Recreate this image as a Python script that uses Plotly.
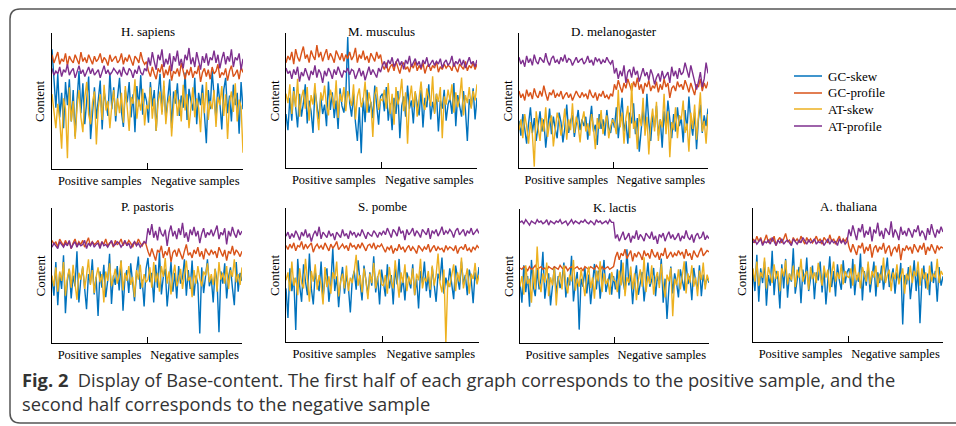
import plotly.graph_objects as go

# ---------------- data (estimated from the figure, 0-100 "content" scale) ----------------
series_names = ["GC-skew", "GC-profile", "AT-skew", "AT-profile"]
series_colors = ["#0072BD", "#D95319", "#EDB120", "#7E2F8E"]
species = ["H. sapiens", "M. musculus", "D. melanogaster", "P. pastoris", "S. pombe", "K. lactis", "A. thaliana"]
tick_labels = ["Positive samples", "Negative samples"]

hs_gc_skew = [88, 62, 45, 70, 38, 56, 30, 64, 47, 66, 35, 58, 24, 51, 72, 41, 63, 33, 54, 68, 22, 45, 60, 37, 52,
              65, 29, 57, 48, 39, 71, 44, 60, 35, 53, 67, 42, 31, 58, 49, 64, 38, 55, 27, 61, 46, 69, 40, 56, 50,
              34, 64, 46, 58, 28, 55, 70, 42, 61, 37, 52, 66, 30, 57, 48, 63, 39, 54, 45, 71, 36, 59, 50, 43, 67,
              33, 56, 47, 62, 38, 19, 58, 44, 72, 53, 36, 63, 49, 29, 58, 67, 41, 54, 35, 62, 47, 56, 26, 64, 44]
hs_gc_profile = [84, 78, 82, 86, 77, 81, 79, 85, 76, 83, 80, 78, 84, 81, 77, 86, 79, 82, 78, 84, 80, 77, 83, 79, 81,
                 85, 78, 82, 80, 76, 84, 79, 81, 83, 78, 80, 85, 77, 82, 79, 84, 80, 76, 83, 81, 78, 86, 80, 77, 79,
                 72, 68, 75, 70, 66, 74, 71, 77, 67, 73, 69, 76, 65, 72, 70, 74, 68, 78, 71, 66, 73, 69, 75, 67, 72,
                 70, 76, 64, 71, 74, 68, 73, 66, 75, 70, 72, 77, 67, 71, 69, 74, 65, 72, 76, 68, 70, 73, 66, 75, 71]
hs_at_skew = [55, 42, 30, 48, 36, 15, 52, 44, 8, 60, 35, 50, 22, 46, 58, 38, 27, 53, 64, 40, 33, 49, 57, 18, 45,
              55, 36, 62, 43, 50, 30, 47, 58, 39, 52, 41, 56, 34, 61, 45, 28, 53, 48, 66, 37, 51, 43, 59, 32, 47,
              44, 60, 37, 52, 28, 49, 57, 40, 65, 33, 48, 54, 24, 46, 58, 39, 51, 35, 62, 43, 55, 30, 47, 60, 38,
              52, 45, 27, 56, 41, 64, 36, 50, 44, 58, 31, 53, 47, 61, 39, 55, 22, 49, 57, 42, 63, 35, 51, 46, 12]
hs_at_profile = [74, 69, 72, 70, 75, 68, 73, 71, 77, 69, 72, 74, 67, 71, 76, 70, 73, 68, 72, 75, 70, 74, 69, 71, 73,
                 67, 72, 76, 70, 73, 69, 71, 74, 72, 70, 73, 68, 75, 71, 69, 74, 72, 67, 73, 70, 76, 71, 69, 74, 72,
                 82, 76, 86, 79, 73, 84, 80, 88, 75, 81, 77, 85, 72, 83, 79, 87, 76, 81, 74, 84, 80, 89, 77, 82, 75,
                 86, 79, 73, 83, 78, 85, 76, 82, 80, 87, 78, 84, 74, 81, 86, 77, 83, 79, 88, 75, 82, 80, 85, 73, 81]

mm_gc_skew = [40, 28, 52, 35, 60, 44, 30, 55, 38, 48, 62, 33, 50, 42, 26, 58, 45, 36, 53, 40, 47, 31, 64, 43, 56,
              37, 50, 29, 59, 46, 41, 54, 97, 48, 38, 55, 34, 20, 45, 11, 52, 34, 58, 41, 49, 37, 61, 44, 32, 53,
              55, 42, 60, 35, 48, 28, 52, 40, 57, 22, 46, 53, 38, 61, 44, 50, 33, 56, 47, 39, 58, 30, 52, 45, 62,
              36, 49, 41, 55, 27, 50, 44, 58, 35, 47, 52, 40, 63, 31, 54, 46, 38, 57, 43, 20, 51, 45, 59, 36, 52]
mm_gc_profile = [78, 83, 80, 86, 77, 88, 82, 79, 85, 90, 81, 84, 78, 87, 83, 80, 91, 82, 86, 79, 84, 88, 80, 85, 82,
                 78, 87, 83, 80, 85, 79, 84, 81, 86, 80, 83, 89, 78, 84, 81, 87, 80, 83, 78, 85, 82, 79, 86, 81, 84,
                 76, 73, 78, 71, 75, 77, 72, 79, 74, 70, 76, 78, 73, 75, 71, 77, 74, 79, 72, 76, 73, 78, 70, 75, 77,
                 72, 76, 74, 79, 71, 75, 73, 77, 74, 76, 75, 72, 78, 74, 71, 77, 75, 73, 79, 72, 76, 74, 78, 73, 77]
mm_at_skew = [55, 48, 62, 40, 57, 45, 66, 38, 52, 58, 44, 60, 35, 54, 47, 63, 42, 28, 56, 50, 61, 46, 39, 58, 52,
              44, 65, 37, 55, 49, 60, 42, 57, 51, 46, 62, 36, 53, 59, 45, 50, 64, 41, 56, 48, 23, 54, 60, 43, 51,
              50, 58, 44, 63, 40, 55, 32, 60, 47, 53, 66, 42, 56, 18, 50, 61, 45, 57, 38, 52, 64, 48, 43, 59, 51,
              46, 68, 40, 55, 49, 60, 22, 53, 47, 58, 50, 62, 41, 56, 45, 52, 67, 39, 54, 48, 60, 44, 57, 50, 62]
mm_at_profile = [74, 70, 72, 66, 73, 69, 75, 64, 71, 68, 74, 70, 65, 72, 69, 76, 67, 73, 70, 63, 72, 68, 74, 71, 66,
                 73, 69, 75, 70, 67, 72, 71, 74, 69, 73, 72, 66, 70, 74, 68, 72, 65, 71, 75, 69, 73, 70, 67, 74, 71,
                 76, 79, 74, 80, 77, 82, 75, 78, 81, 76, 79, 73, 80, 77, 83, 75, 78, 81, 76, 79, 74, 80, 77, 82, 75,
                 78, 80, 76, 79, 77, 81, 74, 78, 80, 76, 78, 83, 75, 79, 77, 81, 76, 80, 74, 78, 82, 77, 79, 75, 80]

dm_gc_skew = [35, 24, 40, 28, 18, 33, 45, 26, 37, 20, 31, 42, 27, 36, 15, 32, 44, 25, 38, 29, 22, 41, 34, 19, 30,
              47, 26, 35, 39, 23, 33, 43, 28, 36, 31, 38, 21, 34, 46, 27, 32, 17, 40, 29, 36, 24, 43, 30, 26, 37,
              30, 45, 22, 38, 52, 27, 35, 18, 41, 33, 48, 25, 37, 12, 31, 44, 28, 55, 34, 20, 39, 30, 46, 24, 36,
              15, 42, 29, 50, 33, 22, 40, 27, 45, 31, 37, 19, 43, 28, 53, 34, 24, 41, 14, 36, 47, 26, 39, 31, 44]
dm_gc_profile = [57, 52, 55, 50, 58, 53, 56, 51, 59, 54, 52, 57, 53, 61, 55, 50, 56, 54, 58, 52, 55, 53, 57, 51, 54,
                 56, 52, 55, 50, 53, 57, 54, 52, 56, 53, 55, 51, 58, 54, 52, 56, 50, 55, 53, 57, 52, 54, 51, 55, 53,
                 62, 58, 65, 60, 56, 63, 59, 66, 61, 57, 64, 60, 67, 58, 62, 55, 63, 60, 65, 57, 61, 59, 64, 56, 62,
                 58, 66, 60, 63, 52, 59, 61, 57, 64, 60, 62, 58, 65, 61, 56, 63, 59, 54, 62, 60, 66, 57, 63, 59, 64]
dm_at_skew = [28, 36, 22, 40, 31, 18, 34, 25, 1, 42, 30, 20, 37, 27, 45, 23, 33, 39, 16, 29, 41, 35, 24, 32, 44,
              21, 36, 28, 48, 26, 38, 31, 19, 35, 42, 27, 33, 24, 40, 30, 14, 37, 29, 43, 25, 34, 39, 22, 31, 36,
              33, 25, 58, 30, 41, 18, 37, 46, 22, 63, 29, 35, 14, 40, 31, 52, 24, 38, 10, 33, 44, 27, 49, 20, 36,
              30, 55, 25, 42, 8, 34, 28, 45, 22, 39, 36, 50, 26, 33, 12, 41, 29, 47, 21, 38, 56, 27, 35, 18, 40]
dm_at_profile = [82, 77, 80, 75, 83, 78, 81, 76, 84, 79, 77, 82, 80, 78, 85, 79, 76, 81, 83, 78, 80, 77, 82, 79, 84,
                 78, 81, 80, 76, 79, 82, 78, 80, 81, 77, 79, 83, 78, 80, 76, 82, 79, 81, 77, 80, 78, 82, 79, 77, 80,
                 70, 74, 66, 72, 68, 76, 63, 71, 73, 67, 75, 69, 72, 64, 70, 74, 68, 71, 65, 73, 69, 62, 67, 70, 64,
                 72, 66, 69, 71, 63, 75, 68, 72, 66, 74, 69, 71, 78, 73, 67, 76, 70, 62, 58, 64, 71, 60, 66, 78, 70]

pp_gc_skew = [48, 35, 60, 28, 52, 40, 65, 22, 46, 55, 33, 50, 42, 68, 30, 47, 56, 38, 25, 51, 44, 62, 36, 49, 20,
              53, 41, 58, 34, 46, 66, 29, 50, 43, 57, 39, 61, 24, 48, 54, 37, 59, 45, 31, 52, 64, 40, 47, 27, 55,
              63, 45, 52, 30, 58, 41, 67, 36, 49, 55, 27, 46, 60, 38, 52, 33, 57, 44, 48, 62, 35, 54, 40, 61, 35,
              50, 44, 7, 56, 37, 51, 62, 42, 48, 30, 55, 46, 8, 53, 44, 59, 33, 49, 56, 41, 28, 60, 38, 52, 46]
pp_gc_profile = [76, 73, 75, 71, 77, 74, 72, 76, 73, 75, 70, 74, 77, 72, 75, 73, 76, 71, 74, 78, 72, 75, 73, 74, 76,
                 71, 75, 73, 77, 72, 74, 75, 71, 76, 73, 74, 77, 72, 75, 73, 76, 74, 71, 75, 73, 77, 74, 72, 75, 73,
                 68, 64, 70, 66, 61, 69, 67, 72, 63, 68, 65, 71, 60, 67, 69, 64, 70, 66, 62, 68, 73, 65, 67, 63, 69,
                 66, 71, 64, 68, 62, 70, 67, 65, 69, 66, 68, 63, 71, 67, 64, 69, 61, 68, 66, 72, 65, 69, 67, 64, 68]
pp_at_skew = [50, 42, 56, 38, 53, 46, 60, 35, 48, 55, 41, 58, 44, 32, 52, 47, 57, 40, 50, 62, 43, 54, 37, 49, 56,
              45, 51, 30, 53, 46, 59, 42, 48, 55, 44, 50, 61, 39, 52, 46, 57, 43, 49, 34, 54, 47, 58, 41, 51, 45,
              47, 56, 41, 60, 45, 52, 38, 57, 49, 63, 44, 53, 36, 50, 58, 42, 47, 55, 40, 52, 61, 46, 49, 34, 54,
              44, 57, 48, 42, 53, 50, 59, 45, 51, 43, 55, 38, 60, 47, 52, 44, 57, 40, 54, 49, 62, 45, 51, 43, 56]
pp_at_profile = [71, 74, 72, 70, 75, 73, 71, 74, 72, 76, 70, 73, 75, 71, 74, 72, 73, 76, 70, 74, 72, 75, 71, 73, 74,
                 70, 75, 72, 73, 71, 74, 76, 72, 73, 75, 74, 71, 73, 76, 72, 74, 70, 73, 75, 72, 74, 71, 73, 75, 74,
                 85, 80, 88, 78, 83, 76, 86, 81, 79, 84, 72, 82, 87, 79, 83, 77, 85, 80, 89, 78, 82, 75, 84, 80, 86,
                 79, 83, 74, 81, 85, 78, 82, 80, 84, 79, 83, 87, 77, 82, 80, 85, 73, 83, 79, 86, 81, 78, 84, 80, 83]

sp_gc_skew = [40, 18, 55, 38, 48, 9, 62, 42, 30, 58, 45, 35, 66, 40, 28, 52, 44, 38, 60, 33, 47, 55, 30, 43, 70,
              38, 49, 26, 45, 56, 36, 50, 41, 22, 47, 53, 39, 61, 44, 31, 57, 46, 35, 52, 42, 64, 37, 49, 28, 54,
              45, 34, 58, 40, 50, 28, 55, 43, 62, 37, 48, 31, 52, 45, 40, 58, 35, 47, 25, 53, 44, 60, 38, 49, 33,
              56, 42, 30, 51, 46, 63, 36, 48, 41, 55, 44, 32, 57, 46, 39, 60, 43, 50, 35, 54, 47, 29, 52, 44, 56]
sp_gc_profile = [72, 69, 73, 70, 74, 68, 72, 71, 75, 69, 73, 70, 72, 74, 67, 71, 73, 70, 72, 69, 74, 71, 68, 73, 70,
                 72, 75, 69, 71, 73, 70, 72, 68, 74, 71, 72, 69, 73, 70, 74, 71, 68, 72, 73, 70, 74, 69, 72, 71, 73,
                 70, 67, 71, 69, 72, 66, 70, 68, 73, 69, 71, 67, 70, 72, 68, 71, 69, 66, 72, 70, 68, 71, 69, 73, 67,
                 70, 72, 68, 71, 69, 70, 67, 72, 69, 71, 70, 68, 72, 66, 70, 71, 69, 73, 68, 70, 67, 71, 69, 72, 70]
sp_at_skew = [46, 52, 38, 60, 42, 48, 35, 55, 44, 40, 62, 47, 30, 53, 45, 58, 39, 50, 43, 28, 56, 41, 49, 36, 52,
              47, 60, 34, 45, 51, 40, 57, 38, 48, 44, 53, 65, 42, 50, 37, 55, 46, 32, 51, 44, 59, 40, 48, 54, 43,
              42, 50, 36, 56, 45, 40, 61, 47, 33, 52, 44, 58, 38, 49, 43, 55, 35, 51, 46, 62, 40, 48, 45, 53, 39,
              57, 42, 50, 66, 44, 37, 54, 0, 46, 41, 50, 58, 38, 52, 45, 63, 40, 49, 55, 36, 51, 47, 59, 43, 50]
sp_at_profile = [79, 82, 77, 81, 78, 83, 80, 76, 82, 79, 84, 78, 81, 75, 80, 83, 79, 86, 77, 82, 80, 78, 83, 79, 81,
                 76, 82, 80, 78, 84, 79, 81, 77, 83, 80, 82, 78, 81, 79, 84, 80, 77, 82, 80, 79, 83, 81, 78, 82, 80,
                 83, 80, 85, 81, 78, 84, 82, 79, 86, 81, 83, 76, 84, 80, 82, 85, 79, 83, 81, 78, 84, 82, 80, 85, 77,
                 83, 81, 84, 79, 82, 86, 80, 83, 81, 84, 82, 78, 83, 85, 80, 82, 84, 79, 83, 81, 85, 80, 82, 84, 81]

kl_gc_skew = [45, 30, 58, 38, 50, 27, 62, 42, 35, 55, 40, 48, 68, 33, 46, 52, 28, 44, 57, 36, 50, 41, 47, 60, 34,
              49, 43, 65, 31, 45, 53, 10, 48, 42, 56, 37, 51, 29, 46, 59, 40, 54, 33, 48, 62, 38, 45, 52, 36, 50,
              40, 55, 33, 62, 46, 38, 70, 43, 51, 29, 48, 58, 36, 45, 53, 31, 49, 60, 42, 47, 56, 35, 50, 44, 63,
              30, 48, 18, 41, 57, 37, 52, 45, 34, 55, 47, 39, 61, 44, 50, 32, 56, 46, 40, 58, 35, 51, 43, 49, 45]
kl_gc_profile = [56, 55, 57, 56, 54, 57, 55, 56, 58, 55, 56, 57, 55, 56, 54, 57, 56, 55, 57, 56, 55, 58, 56, 55, 57,
                 54, 56, 57, 55, 56, 57, 55, 56, 54, 57, 56, 55, 57, 56, 55, 58, 56, 54, 57, 55, 56, 57, 55, 56, 57,
                 64, 68, 62, 67, 65, 70, 63, 66, 69, 61, 67, 64, 68, 66, 62, 69, 65, 67, 63, 70, 66, 64, 68, 62, 67,
                 65, 71, 63, 66, 68, 64, 67, 65, 69, 66, 68, 63, 70, 65, 67, 62, 69, 66, 64, 68, 71, 65, 67, 69, 68]
kl_at_skew = [42, 50, 36, 58, 44, 48, 30, 55, 40, 72, 46, 38, 52, 45, 60, 35, 49, 43, 56, 28, 47, 53, 40, 58, 44,
              37, 51, 46, 62, 39, 48, 42, 55, 45, 35, 50, 57, 41, 49, 33, 54, 46, 61, 38, 52, 44, 48, 36, 53, 47,
              46, 38, 54, 43, 60, 35, 49, 45, 57, 40, 52, 32, 47, 55, 42, 64, 38, 50, 44, 58, 36, 48, 53, 41, 59,
              44, 34, 51, 46, 56, 20, 48, 43, 55, 40, 50, 61, 37, 52, 45, 58, 42, 49, 35, 54, 47, 60, 40, 51, 46]
kl_at_profile = [90, 91, 89, 92, 90, 88, 91, 90, 89, 92, 90, 91, 89, 90, 92, 88, 91, 90, 89, 91, 90, 92, 89, 90, 91,
                 88, 90, 92, 89, 91, 90, 89, 91, 90, 92, 90, 89, 91, 90, 88, 92, 90, 91, 89, 90, 91, 89, 92, 90, 90,
                 78, 81, 76, 80, 83, 77, 79, 82, 75, 80, 78, 84, 77, 81, 79, 76, 82, 80, 78, 83, 77, 80, 74, 81, 79,
                 82, 76, 80, 83, 78, 81, 77, 79, 82, 76, 80, 78, 84, 79, 77, 81, 75, 80, 82, 78, 79, 83, 77, 80, 78]

at_gc_skew = [52, 38, 65, 30, 55, 44, 60, 27, 50, 42, 68, 35, 53, 47, 25, 58, 40, 62, 33, 51, 45, 70, 36, 48, 56,
              29, 54, 43, 63, 38, 49, 57, 32, 52, 46, 60, 37, 55, 28, 50, 64, 41, 53, 34, 58, 46, 39, 61, 44, 52,
              55, 40, 62, 35, 50, 45, 66, 31, 53, 42, 58, 37, 48, 60, 34, 52, 44, 57, 39, 50, 63, 41, 47, 55, 36,
              52, 45, 59, 13, 50, 43, 56, 32, 49, 61, 38, 54, 14, 46, 57, 40, 51, 35, 60, 44, 53, 30, 56, 42, 49]
at_gc_profile = [77, 74, 79, 75, 78, 73, 76, 80, 74, 77, 75, 79, 72, 76, 78, 74, 77, 81, 75, 76, 73, 78, 75, 77, 74,
                 79, 76, 73, 78, 75, 77, 74, 76, 79, 75, 77, 73, 78, 76, 74, 80, 75, 77, 73, 76, 79, 74, 77, 75, 78,
                 71, 67, 73, 69, 65, 72, 70, 74, 66, 71, 68, 73, 63, 70, 72, 67, 71, 69, 74, 66, 70, 72, 64, 69, 71,
                 67, 73, 61, 70, 68, 72, 69, 71, 66, 73, 70, 67, 72, 69, 74, 65, 71, 68, 73, 70, 66, 72, 69, 71, 70]
at_at_skew = [55, 45, 60, 42, 52, 48, 63, 40, 56, 50, 44, 58, 47, 53, 38, 55, 49, 61, 43, 51, 46, 57, 41, 54, 48,
              62, 45, 50, 53, 39, 56, 47, 52, 44, 59, 50, 42, 57, 48, 54, 37, 51, 60, 45, 52, 47, 58, 43, 53, 49,
              48, 55, 42, 58, 46, 52, 40, 56, 50, 45, 60, 43, 53, 48, 57, 41, 51, 46, 63, 44, 50, 54, 38, 52, 47,
              58, 43, 49, 55, 36, 51, 46, 57, 44, 53, 49, 60, 42, 55, 47, 52, 39, 57, 45, 51, 48, 62, 44, 53, 50]
at_at_profile = [74, 76, 73, 75, 77, 72, 75, 74, 76, 73, 78, 75, 72, 76, 74, 77, 73, 75, 76, 74, 72, 77, 75, 73, 76,
                 74, 78, 75, 73, 76, 74, 75, 77, 73, 75, 74, 76, 72, 75, 77, 73, 76, 74, 75, 72, 77, 74, 76, 73, 75,
                 84, 79, 87, 81, 76, 85, 82, 88, 78, 83, 80, 86, 75, 84, 81, 89, 79, 83, 77, 85, 82, 80, 90, 78, 84,
                 81, 76, 86, 80, 83, 79, 85, 82, 78, 84, 82, 87, 79, 83, 81, 76, 85, 80, 88, 82, 78, 84, 81, 86, 82]

panel_series = [
    [hs_gc_skew, hs_gc_profile, hs_at_skew, hs_at_profile],
    [mm_gc_skew, mm_gc_profile, mm_at_skew, mm_at_profile],
    [dm_gc_skew, dm_gc_profile, dm_at_skew, dm_at_profile],
    [pp_gc_skew, pp_gc_profile, pp_at_skew, pp_at_profile],
    [sp_gc_skew, sp_gc_profile, sp_at_skew, sp_at_profile],
    [kl_gc_skew, kl_gc_profile, kl_at_skew, kl_at_profile],
    [at_gc_skew, at_gc_profile, at_at_skew, at_at_profile],
]

# ---------------- layout (pixel geometry) ----------------
W, H = 956, 426
panel_px = [  # x0, x1, ytop, ybottom
    (52, 243, 33, 169), (286, 477, 33, 168), (519, 708, 33, 168),
    (52, 242, 208, 343), (286, 479, 208, 342), (520, 709, 209, 343), (753, 943, 208, 342),
]
SERIF = "Liberation Serif, Times New Roman, serif"

fig = go.Figure()
layout = dict(
    width=W, height=H, margin=dict(l=0, r=0, t=0, b=0),
    paper_bgcolor="white", plot_bgcolor="white",
    font=dict(family=SERIF, size=13, color="black"),
    annotations=[], shapes=[], showlegend=False,
)

for i, (name, sers) in enumerate(zip(species, panel_series)):
    n = max(len(s) for s in sers)
    suffix = "" if i == 0 else str(i + 1)
    for s, (sname, col) in enumerate(zip(series_names, series_colors)):
        fig.add_trace(go.Scatter(
            x=list(range(len(sers[s]))), y=sers[s], mode="lines", name=sname,
            line=dict(color=col, width=1.4),
            xaxis="x" + suffix, yaxis="y" + suffix, hoverinfo="skip",
        ))
    x0, x1, yt, yb = panel_px[i]
    mid = (n - 1) / 2
    layout["xaxis" + suffix] = dict(
        domain=[x0 / W, x1 / W], anchor="y" + suffix, range=[0, n - 1],
        showgrid=False, zeroline=False, showline=True, linecolor="black", linewidth=1,
        tickmode="array", tickvals=[(n - 1) * 0.25, (n - 1) * 0.75], ticktext=tick_labels,
        ticks="", tickfont=dict(family=SERIF, size=12.5, color="black"),
        minor=dict(tickmode="array", tickvals=[mid], ticks="inside", ticklen=6,
                   tickcolor="black", tickwidth=1, showgrid=False),
    )
    layout["yaxis" + suffix] = dict(
        domain=[1 - yb / H, 1 - yt / H], anchor="x" + suffix, range=[0, 100],
        showgrid=False, zeroline=False, showline=True, linecolor="black", linewidth=1,
        showticklabels=False, ticks="",
    )
    layout["annotations"].append(dict(
        text=name, xref="paper", yref="paper", x=((x0 + x1) / 2) / W, y=1 - (yt - 2) / H,
        xanchor="center", yanchor="middle", showarrow=False,
        font=dict(family=SERIF, size=13, color="black"),
    ))
    layout["annotations"].append(dict(
        text="Content", xref="paper", yref="paper", x=(x0 - 12) / W, y=1 - ((yt + yb) / 2) / H,
        xanchor="center", yanchor="middle", showarrow=False, textangle=-90,
        font=dict(family=SERIF, size=13, color="black"),
    ))

# legend (drawn as key lines + labels)
legend_x0, legend_x1, legend_text_x = 794, 822, 826
legend_rows = [76, 93, 109, 126]
for sname, col, ry in zip(series_names, series_colors, legend_rows):
    layout["shapes"].append(dict(
        type="line", xref="paper", yref="paper",
        x0=legend_x0 / W, x1=legend_x1 / W, y0=1 - ry / H, y1=1 - ry / H,
        line=dict(color=col, width=1.5),
    ))
    layout["annotations"].append(dict(
        text=sname, xref="paper", yref="paper", x=legend_text_x / W, y=1 - ry / H,
        xanchor="left", yanchor="middle", showarrow=False,
        font=dict(family=SERIF, size=13, color="black"),
    ))

# caption (one text block, two lines)
CAP = "Open Sans, Noto Sans, sans-serif"
layout["annotations"].append(dict(
    text="<b>Fig. 2</b>  Display of Base-content. The first half of each graph corresponds to the positive sample, and the"
         "<br>second half corresponds to the negative sample",
    xref="paper", yref="paper", x=20 / W, y=1 - 391 / H, xanchor="left", yanchor="middle", align="left",
    showarrow=False, font=dict(family=CAP, size=18.3, color="#333333"),
))

# figure frame (rounded on the left)
layout["shapes"].append(dict(
    type="path", xref="paper", yref="paper",
    path="M 1,{a} L {b},{a} Q {c},{a} {c},{d} L {c},{e} Q {c},{f} {b},{f} L 1,{f}".format(
        a=1 - 9 / H, b=20 / W, c=10 / W, d=1 - 19 / H, e=1 - 413 / H, f=1 - 423 / H),
    line=dict(color="#555555", width=1.5),
))

fig.update_layout(**layout)
fig.write_html("out.html")
